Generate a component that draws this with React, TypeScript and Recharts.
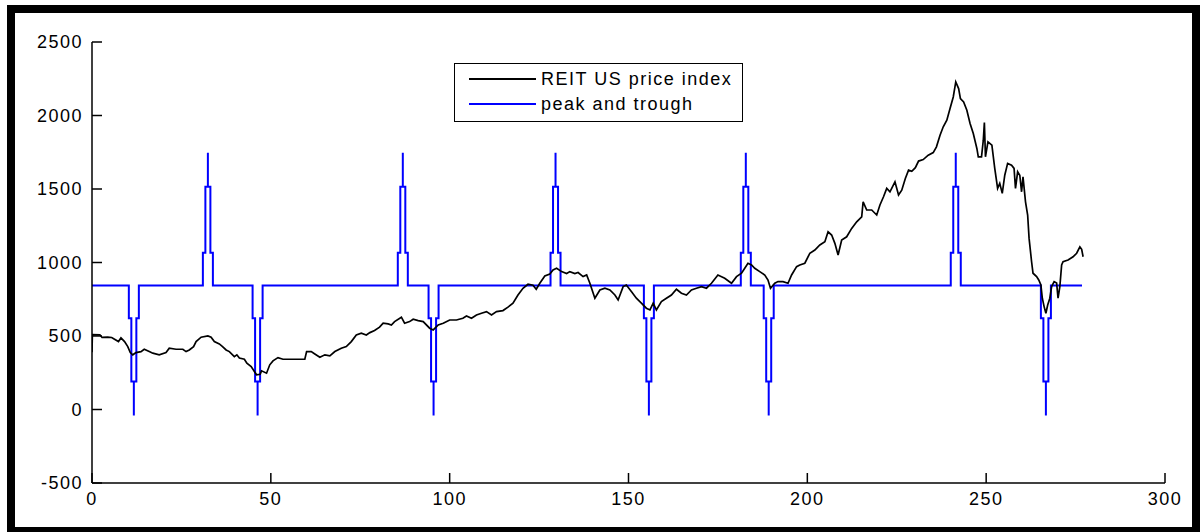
import React from 'react';
import { LineChart, Line, XAxis, YAxis, Legend } from 'recharts';

// REIT US price index (x position, value)
const priceX = [
  0, 0.1, 2.2, 2.8, 4.4, 5.5, 6.3, 7.4, 8.1, 9.1, 10, 10.7, 11.4, 12.3, 13.7, 14.6, 16, 17, 18.8, 20.7,
  21.6, 23.5, 25.4, 26.3, 27.2, 28.4, 29.1, 30.5, 32.4, 33.3, 34.2, 35.6, 36.5, 37.5, 38.4, 39.8, 40.5, 41.2, 42.6, 43.3,
  44.5, 45.4, 46, 47, 47.4, 48.8, 49.7, 50.6, 52, 53.4, 59.5, 60, 61.3, 62.3, 63.7, 65.1, 66.5, 67.9, 69.7, 71.1,
  72.5, 73.9, 75.3, 76.7, 77.7, 79, 80.4, 81.4, 82.8, 83.7, 84.6, 86.5, 87.4, 88.8, 89.8, 91.2, 92.6, 94.4, 95.4, 96.8,
  98.2, 100, 101.9, 103.7, 104.7, 106.1, 107.5, 108.9, 110.3, 111.7, 113.1, 114.9, 116.3, 117.7, 119.1, 120.5, 121.9, 123.3, 124.2, 125.2,
  126.6, 128, 128.9, 129.9, 131.3, 132.7, 133.6, 135, 135.9, 137.3, 138.3, 139.2, 140.6, 142, 143.4, 144.8, 146.2, 147.1, 148.5, 149.4,
  150.8, 152.2, 153.6, 155, 156, 156.9, 157.8, 159.2, 160.6, 162, 163.4, 164.8, 166.2, 167.6, 169, 170.4, 171.8, 173.2, 175, 176.9,
  178.8, 180.2, 181.6, 182.5, 183.4, 184.4, 185.3, 186.7, 188.1, 189, 189.7, 190.9, 191.8, 193.2, 194.6, 195.6, 197, 197.9, 199.3, 200.7,
  202.1, 203.5, 204.9, 205.8, 206.8, 207.7, 208.6, 209.6, 211, 212.4, 213.8, 215.2, 215.6, 216.6, 218, 219.4, 220.3, 221.3, 222.2, 223.1,
  224.5, 225.5, 226.4, 227.4, 228.3, 229.2, 230.2, 231.1, 232.4, 233.8, 235.2, 236.1, 237.1, 238, 239, 239.9, 240.8, 241.5, 242.3, 242.8,
  243.7, 244.6, 245.5, 246.4, 247.4, 247.8, 248.7, 249.2, 249.5, 249.8, 250.5, 251.6, 252.4, 253.2, 253.8, 254.5, 255.2, 256, 257.1, 257.8,
  258.2, 258.8, 259.4, 259.9, 260.3, 261, 261.6, 262, 262.7, 263.1, 264.1, 264.7, 265.3, 265.7, 266.2, 266.7, 267.2, 267.8, 268.3, 269,
  269.7, 270.1, 270.6, 271.1, 271.5, 272.9, 274.3, 275.3, 276.2, 276.7, 277.1,
];
const priceY = [
  390, 510, 508, 490, 492, 490, 478, 462, 487, 462, 428, 387, 372, 387, 394, 410, 394, 383, 372, 387,
  417, 410, 410, 394, 405, 428, 462, 492, 500, 492, 462, 446, 428, 405, 394, 360, 372, 350, 342, 315,
  292, 258, 236, 240, 263, 247, 304, 331, 353, 342, 342, 394, 394, 378, 356, 372, 365, 394, 417, 428,
  462, 507, 519, 507, 523, 537, 560, 587, 582, 575, 598, 628, 587, 598, 614, 605, 598, 553, 541, 575,
  587, 609, 609, 621, 636, 621, 643, 655, 666, 643, 666, 673, 696, 723, 779, 825, 852, 845, 818, 859,
  908, 922, 949, 961, 938, 925, 938, 925, 932, 904, 915, 859, 757, 813, 825, 813, 779, 745, 836, 847,
  802, 757, 723, 689, 677, 723, 677, 734, 757, 779, 818, 791, 779, 813, 825, 836, 825, 859, 915, 893,
  859, 904, 927, 961, 995, 983, 961, 938, 915, 881, 825, 859, 870, 870, 859, 915, 972, 983, 995, 1063,
  1085, 1119, 1141, 1209, 1187, 1130, 1051, 1153, 1175, 1232, 1277, 1311, 1413, 1357, 1357, 1323, 1391, 1447, 1504, 1481,
  1549, 1459, 1492, 1572, 1628, 1620, 1645, 1690, 1700, 1730, 1748, 1787, 1866, 1923, 1968, 2048, 2126, 2228, 2183, 2115,
  2092, 2036, 1946, 1878, 1776, 1719, 1719, 1832, 1952, 1719, 1821, 1798, 1640, 1504, 1538, 1470, 1594, 1674, 1662, 1640,
  1504, 1617, 1594, 1481, 1583, 1413, 1323, 1164, 1005, 927, 904, 881, 847, 757, 700, 655, 711, 757, 836, 870,
  860, 757, 836, 983, 1005, 1017, 1039, 1063, 1107, 1090, 1039,
];

// peak and trough indicator
const troughDates = [11.7, 46.3, 95.5, 155.7, 189.2, 266.7];
const peakDates = [32.4, 86.9, 129.6, 182.8, 241.5];
const phaseBase = 843;
const peakLevels = [1067, 1515, 1746];
const troughLevels = [621, 190, -41];
const spikeHalfWidths = [1.4, 0.7, 0];
const phaseStart = 0;
const phaseEnd = 276.8;

const xTicks = [0, 50, 100, 150, 200, 250, 300];
const yTicks = [-500, 0, 500, 1000, 1500, 2000, 2500];
const seriesNames = ['REIT US price index', 'peak and trough'];
const seriesColors = ['#000000', '#0000ff'];

const priceData = priceX.map((x, i) => ({ x, y: priceY[i] }));

function buildPhase() {
  const turns = [
    ...troughDates.map((c) => ({ c, lv: troughLevels })),
    ...peakDates.map((c) => ({ c, lv: peakLevels })),
  ].sort((a, b) => a.c - b.c);
  const [w0, w1, w2] = spikeHalfWidths;
  const pts: { x: number; y: number }[] = [{ x: phaseStart, y: phaseBase }];
  for (const { c, lv } of turns) {
    pts.push(
      { x: c - w0, y: phaseBase },
      { x: c - w0, y: lv[0] },
      { x: c - w1, y: lv[0] },
      { x: c - w1, y: lv[1] },
      { x: c - w2, y: lv[1] },
      { x: c, y: lv[2] },
      { x: c + w2, y: lv[1] },
      { x: c + w1, y: lv[1] },
      { x: c + w1, y: lv[0] },
      { x: c + w0, y: lv[0] },
      { x: c + w0, y: phaseBase },
    );
  }
  pts.push({ x: phaseEnd, y: phaseBase });
  return pts;
}
const phaseData = buildPhase();

const FONT = '"Liberation Sans", Arial, sans-serif';
const tickStyle = { fill: '#000', fontSize: 18, fontFamily: FONT, letterSpacing: 1.5 };

const LegendBox = () => (
  <div
    style={{
      width: 289,
      height: 59,
      border: '1px solid #000',
      boxSizing: 'border-box',
      background: '#fff',
      position: 'relative',
      fontFamily: FONT,
      fontSize: 18,
      letterSpacing: 1.5,
      color: '#000',
    }}
  >
    {seriesNames.map((name, i) => (
      <div key={name} style={{ position: 'absolute', left: 0, top: 4 + i * 25, height: 22, width: '100%' }}>
        <div
          style={{
            position: 'absolute',
            left: 14,
            top: 10,
            width: 67,
            height: 2,
            background: seriesColors[i],
          }}
        />
        <span style={{ position: 'absolute', left: 86, top: 0, lineHeight: '22px', whiteSpace: 'nowrap' }}>{name}</span>
      </div>
    ))}
  </div>
);

export default function App() {
  return (
    <div style={{ position: 'absolute', left: 0, top: 0, width: 1202, height: 532, background: '#fff', overflow: 'hidden' }}>
      <div
        style={{
          position: 'absolute',
          left: 7,
          top: 5,
          width: 1193,
          height: 530,
          border: '8px solid #000',
          boxSizing: 'border-box',
        }}
      />
      <div style={{ position: 'absolute', left: 0, top: 0 }}>
        <LineChart width={1202} height={532} margin={{ top: 42, right: 37, bottom: 19, left: 32 }}>
          <XAxis
            dataKey="x"
            type="number"
            domain={[0, 300]}
            ticks={xTicks}
            allowDataOverflow
            height={30}
            tickSize={-10}
            tickMargin={19}
            axisLine={{ stroke: '#000', strokeWidth: 1.5 }}
            tickLine={{ stroke: '#000', strokeWidth: 1.5 }}
            tick={tickStyle}
            interval={0}
          />
          <YAxis
            type="number"
            domain={[-500, 2500]}
            ticks={yTicks}
            allowDataOverflow
            width={60}
            tickSize={-10}
            tickMargin={19}
            axisLine={{ stroke: '#000', strokeWidth: 1.5 }}
            tickLine={{ stroke: '#000', strokeWidth: 1.5 }}
            tick={tickStyle}
            interval={0}
          />
          <Legend
            layout="vertical"
            align="center"
            verticalAlign="middle"
            content={() => <LegendBox />}
            wrapperStyle={{ position: 'absolute', left: 454, top: 63, width: 289, height: 59 }}
          />
          <Line
            name={seriesNames[1]}
            data={phaseData}
            dataKey="y"
            type="linear"
            stroke={seriesColors[1]}
            strokeWidth={2}
            dot={false}
            activeDot={false}
            isAnimationActive={false}
          />
          <Line
            name={seriesNames[0]}
            data={priceData}
            dataKey="y"
            type="linear"
            stroke={seriesColors[0]}
            strokeWidth={1.7}
            dot={false}
            activeDot={false}
            isAnimationActive={false}
          />
        </LineChart>
      </div>
    </div>
  );
}
